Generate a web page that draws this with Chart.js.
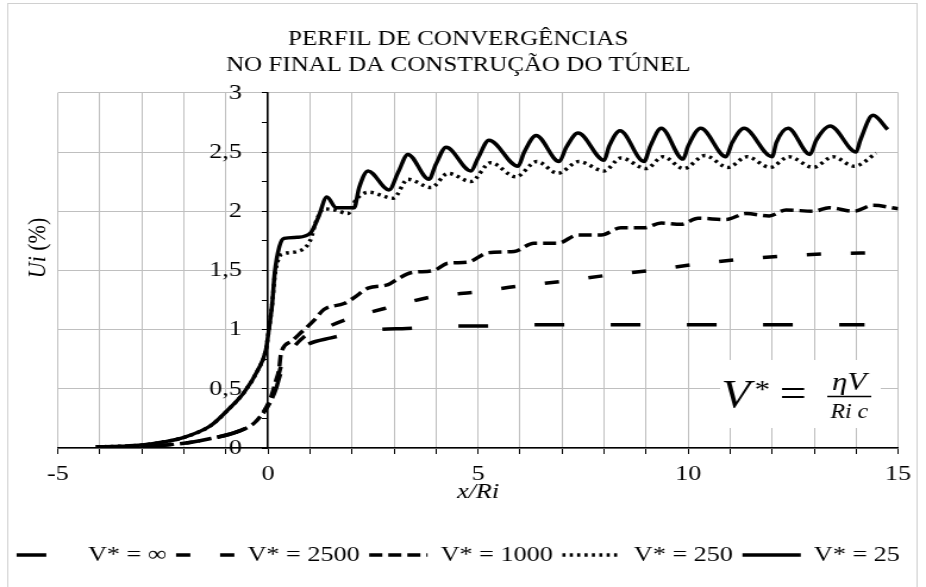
<!DOCTYPE html>
<html>
<head>
<meta charset="utf-8">
<script src="https://cdn.jsdelivr.net/npm/chart.js@4/dist/chart.umd.min.js"></script>
<style>
  html, body { margin: 0; padding: 0; background: #fff; }
</style>
</head>
<body>
<canvas id="c" width="778" height="587" style="display:block;width:926px;height:587px"></canvas>
<script>
// the original chart is stretched sideways, so draw narrower and let css widen it
const titleLines = ['PERFIL DE CONVERGÊNCIAS', 'NO FINAL DA CONSTRUÇÃO DO TÚNEL'];
const seriesNames = ['V* = ∞', 'V* = 2500', 'V* = 1000', 'V* = 250', 'V* = 25'];
const xTickLabels = [-5, 0, 5, 10, 15];
const yTickLabels = [0, 0.5, 1, 1.5, 2, 2.5, 3];

const xInf = [-3.0, -2.6, -2.0, -1.36, -0.71, -0.33, -0.1, 0.07, 0.19, 0.3, 0.5, 0.86, 1.5, 2.6, 3.3, 4.4, 5.1, 6.2, 8.0, 10.0, 12.0, 14.2];
const yInf = [0.01, 0.02, 0.04, 0.08, 0.14, 0.21, 0.3, 0.4, 0.5, 0.63, 0.75, 0.86, 0.93, 1.0, 1.01, 1.03, 1.03, 1.04, 1.04, 1.04, 1.04, 1.04];

const x2500 = [-3.0, -2.6, -2.0, -1.36, -0.71, -0.33, -0.1, 0.07, 0.19, 0.3, 0.5, 0.86, 1.26, 1.9, 2.9, 3.95, 5.0, 6.0, 7.05, 8.1, 9.1, 10.15, 11.15, 12.2, 13.3, 14.5];
const y2500 = [0.01, 0.02, 0.04, 0.08, 0.14, 0.21, 0.3, 0.4, 0.52, 0.68, 0.8, 0.94, 1.0, 1.09, 1.19, 1.28, 1.32, 1.37, 1.41, 1.46, 1.5, 1.55, 1.59, 1.62, 1.64, 1.65];

const x1000 = [-3.0, -2.6, -2.0, -1.36, -0.71, -0.33, -0.1, 0.07, 0.19, 0.26, 0.31, 0.55, 0.8, 1.1, 1.33, 1.81, 2.05, 2.38, 2.86, 3.1, 3.4, 3.95, 4.28, 4.76, 5.24, 5.86, 6.33, 6.9, 7.38, 7.93, 8.4, 8.95, 9.36, 9.83, 10.24, 10.9, 11.38, 11.93, 12.33, 13.0, 13.35, 13.95, 14.4, 15];
const y1000 = [0.01, 0.02, 0.04, 0.08, 0.14, 0.21, 0.31, 0.43, 0.57, 0.66, 0.8, 0.9, 0.98, 1.08, 1.17, 1.22, 1.27, 1.35, 1.38, 1.43, 1.48, 1.5, 1.56, 1.57, 1.65, 1.66, 1.73, 1.73, 1.8, 1.8, 1.86, 1.86, 1.9, 1.89, 1.94, 1.93, 1.98, 1.96, 2.01, 2.0, 2.03, 2.0, 2.05, 2.02];

const x250 = [-4.1, -3.5, -3.0, -2.5, -2.0, -1.36, -0.96, -0.57, -0.24, -0.05, 0.02, 0.1, 0.16, 0.25, 0.36, 0.7, 1.0, 1.15, 1.33, 1.6, 1.9, 2.1, 2.4, 2.98, 3.33, 3.88, 4.29, 4.83, 5.3, 5.9, 6.4, 6.9, 7.4, 8.0, 8.4, 9.0, 9.4, 9.9, 10.4, 10.95, 11.4, 11.95, 12.4, 12.98, 13.45, 13.95, 14.48];
const y250 = [0.01, 0.015, 0.025, 0.05, 0.09, 0.19, 0.32, 0.47, 0.66, 0.83, 1.0, 1.22, 1.45, 1.6, 1.64, 1.66, 1.75, 1.92, 2.02, 2.01, 1.98, 2.1, 2.16, 2.11, 2.27, 2.2, 2.32, 2.25, 2.41, 2.29, 2.42, 2.32, 2.42, 2.34, 2.45, 2.36, 2.46, 2.36, 2.47, 2.37, 2.46, 2.37, 2.46, 2.37, 2.46, 2.38, 2.49];

const x25 = [-4.1, -3.5, -3.0, -2.5, -2.0, -1.36, -0.96, -0.57, -0.24, -0.05, 0.02, 0.1, 0.16, 0.27, 0.38, 0.7, 1.02, 1.2, 1.4, 1.62, 2.05, 2.17, 2.38, 2.88, 3.1, 3.33, 3.83, 4.0, 4.24, 4.83, 5.0, 5.26, 5.95, 6.1, 6.38, 6.93, 7.1, 7.38, 8.0, 8.12, 8.38, 8.95, 9.1, 9.36, 9.88, 10.0, 10.3, 10.9, 11.05, 11.33, 12.0, 12.1, 12.38, 12.9, 13.05, 13.38, 14.0, 14.1, 14.4, 14.75];
const y25 = [0.01, 0.015, 0.025, 0.05, 0.09, 0.19, 0.32, 0.47, 0.66, 0.83, 1.0, 1.22, 1.48, 1.7, 1.77, 1.78, 1.82, 1.95, 2.12, 2.03, 2.03, 2.2, 2.34, 2.18, 2.33, 2.48, 2.27, 2.4, 2.54, 2.34, 2.45, 2.6, 2.38, 2.5, 2.64, 2.42, 2.54, 2.66, 2.43, 2.55, 2.68, 2.42, 2.55, 2.70, 2.44, 2.55, 2.70, 2.46, 2.58, 2.70, 2.46, 2.58, 2.70, 2.48, 2.6, 2.72, 2.5, 2.6, 2.81, 2.69];

const serif = '"Liberation Serif", "Times New Roman", serif';
Chart.defaults.font.family = serif;
Chart.defaults.color = '#000';

function toPoints(xs, ys) {
  return xs.map((x, i) => ({ x: x, y: ys[i] }));
}

function lineSet(label, xs, ys, dash) {
  return {
    label: label,
    data: toPoints(xs, ys),
    borderColor: '#000',
    backgroundColor: '#000',
    borderWidth: 3.5,
    borderDash: dash,
    pointRadius: 0,
    fill: false,
    cubicInterpolationMode: 'monotone'
  };
}

const gridGray = '#bfbfbf';

// extra text: y title with italic Ui, formula box, outer frame
const extras = {
  id: 'extras',
  beforeDraw(chart) {
    const ctx = chart.ctx;
    ctx.save();
    ctx.strokeStyle = '#d0d0d0';
    ctx.lineWidth = 1;
    ctx.strokeRect(6.5, 3.5, 764, 620);
    ctx.restore();
  },
  afterDraw(chart) {
    const ctx = chart.ctx;
    ctx.save();
    // y axis title
    ctx.translate(32, 248);
    ctx.rotate(-Math.PI / 2);
    ctx.fillStyle = '#000';
    ctx.textBaseline = 'middle';
    ctx.font = 'italic 22px ' + serif;
    const w1 = ctx.measureText('Ui').width;
    ctx.font = '22px ' + serif;
    const w2 = ctx.measureText(' (%)').width;
    let x0 = -(w1 + w2) / 2;
    ctx.font = 'italic 22px ' + serif;
    ctx.fillText('Ui', x0, 0);
    ctx.font = '22px ' + serif;
    ctx.fillText(' (%)', x0 + w1, 0);
    ctx.restore();

    // formula box
    ctx.save();
    ctx.fillStyle = '#fff';
    ctx.fillRect(605, 360, 135, 68);
    ctx.fillStyle = '#000';
    ctx.textBaseline = 'alphabetic';
    ctx.font = 'italic 40px ' + serif;
    ctx.fillText('V', 606, 407);
    ctx.font = '26px ' + serif;
    ctx.fillText('*', 634, 398);
    ctx.font = '40px ' + serif;
    ctx.fillText('=', 655, 407);
    ctx.textAlign = 'center';
    ctx.font = 'italic 26px ' + serif;
    ctx.fillText('ηV', 713.5, 390);
    ctx.font = 'italic 20px ' + serif;
    ctx.fillText('Ri c', 713.5, 418);
    ctx.strokeStyle = '#000';
    ctx.lineWidth = 1.3;
    ctx.beginPath();
    ctx.moveTo(695, 396.5);
    ctx.lineTo(732, 396.5);
    ctx.stroke();
    ctx.restore();
  }
};

new Chart(document.getElementById('c'), {
  type: 'line',
  data: {
    datasets: [
      lineSet(seriesNames[0], xInf, yInf, [25, 39]),
      lineSet(seriesNames[1], x2500, y2500, [12, 25]),
      lineSet(seriesNames[2], x1000, y1000, [11, 5]),
      lineSet(seriesNames[3], x250, y250, [2.6, 3.6]),
      lineSet(seriesNames[4], x25, y25, [])
    ]
  },
  options: {
    responsive: false,
    devicePixelRatio: 1,
    animation: false,
    layout: { padding: { left: 0, right: 8, top: 0, bottom: 11 } },
    plugins: {
      title: {
        display: true,
        text: titleLines,
        color: '#000',
        font: { family: serif, size: 21, weight: 'normal', lineHeight: 1.21 },
        padding: { top: 27, bottom: 15 }
      },
      legend: {
        position: 'bottom',
        labels: {
          usePointStyle: true,
          pointStyle: 'line',
          pointStyleWidth: 49,
          padding: 8,
          color: '#000',
          font: { family: serif, size: 22 },
          generateLabels: chart => Chart.defaults.plugins.legend.labels.generateLabels(chart).map(item => Object.assign(item, {
            lineDash: chart.data.datasets[item.datasetIndex].borderDash,
            lineWidth: 3.5,
            pointStyle: 'line'
          }))
        }
      },
      tooltip: { enabled: false }
    },
    scales: {
      x: {
        type: 'linear',
        position: 'bottom',
        min: -5,
        max: 15,
        grid: { color: gridGray, tickColor: '#000', tickLength: 6 },
        border: { color: '#000', width: 1.5 },
        ticks: {
          stepSize: 1,
          autoSkip: false,
          maxRotation: 0,
          padding: 7,
          font: { size: 22 },
          callback: v => xTickLabels.includes(v) ? String(v) : ''
        },
        title: {
          display: true,
          text: 'x/Ri',
          font: { size: 22, style: 'italic', lineHeight: 1.2 },
          padding: { top: -15.6, bottom: 30.8 }
        }
      },
      y: {
        type: 'linear',
        position: { x: 0 },
        min: 0,
        max: 3,
        grid: {
          color: c => (c.tick && yTickLabels.includes(c.tick.value)) ? gridGray : 'rgba(0,0,0,0)',
          tickColor: '#000',
          tickLength: 4
        },
        border: { color: '#000', width: 1.5 },
        ticks: {
          stepSize: 0.25,
          autoSkip: false,
          font: { size: 22 },
          // labels of an axis placed at x = 0 sit on the line, trailing spaces push them left
          callback: v => yTickLabels.includes(v) ? String(v).replace('.', ',') + '    ' : ''
        }
      },
      // empty side axes only hold the plot area in place
      yl: {
        type: 'linear',
        position: 'left',
        grid: { display: false, drawTicks: false },
        border: { display: false },
        ticks: { display: false },
        title: { display: true, text: '', font: { size: 10, lineHeight: 1 }, padding: { top: 0, bottom: 38.7 } }
      },
      yr: {
        type: 'linear',
        position: 'right',
        grid: { display: false, drawTicks: false },
        border: { display: false },
        ticks: { display: false },
        title: { display: true, text: '', font: { size: 10, lineHeight: 1 }, padding: { top: 0, bottom: 5.4 } }
      }
    }
  },
  plugins: [extras]
});
</script>
</body>
</html>
